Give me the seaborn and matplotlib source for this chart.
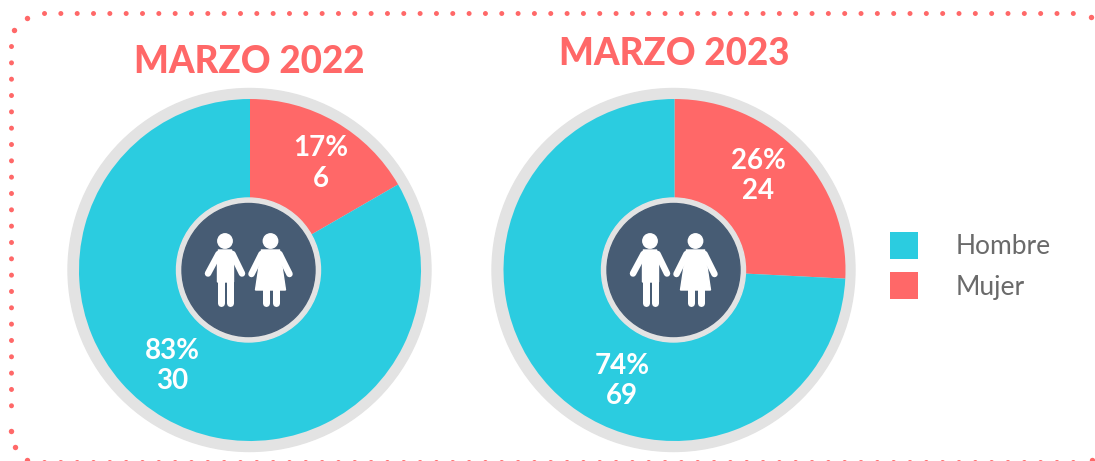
import matplotlib
matplotlib.use("Agg")
import matplotlib.pyplot as plt
from matplotlib.patches import Circle, Polygon, Patch
import seaborn as sns

# Data
periods = ["MARZO 2022", "MARZO 2023"]
categories = ["Mujer", "Hombre"]
values_2022 = [6, 30]
values_2023 = [24, 69]
pct_2022 = ["17%", "83%"]
pct_2023 = ["26%", "74%"]

sns.set_theme(style="white")
plt.rcParams["font.family"] = ["Lato", "DejaVu Sans"]

palette = {"Mujer": "#FF6868", "Hombre": "#2BCCE0"}
GRAY = "#E3E3E3"
DARK = "#475C74"
W, H = 1095, 461
PT = 72 / 100  # points per pixel

fig = plt.figure(figsize=(W / 100, H / 100), dpi=100, facecolor="white")
ax = fig.add_axes([0, 0, 1, 1])


def Y(py):
    return H - py


def limb(P, a, b, w):
    ax.plot(*zip(P(*a), P(*b)), color="white", lw=w * PT, solid_capstyle="round", zorder=6)


def man(cx, cy):
    def P(dx, dy):
        return (cx + dx, Y(cy + dy))
    ax.add_patch(Circle(P(-23.5, -29), 7.2, color="white", zorder=6))
    ax.add_patch(Polygon([P(-30, -20), P(-17, -20), P(-15, -14), P(-15, 12), P(-31, 12), P(-31, -14)],
                         closed=True, color="white", zorder=6))
    limb(P, (-30, -16), (-40.5, 3.5), 6.5)
    limb(P, (-16, -16), (-6.5, 3.5), 6.5)
    limb(P, (-27.7, 8), (-27.7, 33), 7)
    limb(P, (-19, 8), (-19, 33), 7)


def woman(cx, cy):
    def P(dx, dy):
        return (cx + dx, Y(cy + dy))
    ax.add_patch(Circle(P(22, -29), 7.2, color="white", zorder=6))
    ax.add_patch(Polygon([P(13, -20), P(31, -20), P(34, 0), P(37, 20), P(7, 20), P(10, 0)],
                         closed=True, color="white", zorder=6))
    limb(P, (13, -16), (3, 4), 6.5)
    limb(P, (31, -16), (41, 4), 6.5)
    limb(P, (17.5, 15), (17.5, 33), 7)
    limb(P, (27, 15), (27, 33), 7)


charts = [
    dict(vals=values_2022, pct=pct_2022, title=periods[0], c=(250, 270), r=171, ring=181.5, rc=249.5,
         hub=(248.5, 270), title_xy=(249, 62), pos=[(321, 163.5), (172, 366)]),
    dict(vals=values_2023, pct=pct_2023, title=periods[1], c=(674.5, 270), r=171, ring=181.5, rc=673.5,
         hub=(673.5, 270), title_xy=(674, 54), pos=[(758, 176), (622, 381)]),
]

for ch in charts:
    cx, cy = ch["c"]
    ax.add_patch(Circle((ch["rc"], Y(cy)), ch["ring"], color=GRAY, zorder=1))
    wedges, _ = ax.pie(ch["vals"], colors=[palette[k] for k in categories], center=(cx, Y(cy)), radius=ch["r"],
                       startangle=90, counterclock=False, frame=False,
                       wedgeprops=dict(edgecolor="none", linewidth=0, zorder=2))
    hx, hy = ch["hub"]
    ax.add_patch(Circle((hx, Y(hy)), 72, color=GRAY, zorder=3))
    ax.add_patch(Circle((hx, Y(hy)), 66.5, color=DARK, zorder=4))
    man(hx, hy)
    woman(hx, hy)
    ax.text(ch["title_xy"][0], Y(ch["title_xy"][1]), ch["title"], color=palette["Mujer"], fontsize=26.5,
            fontweight=900, ha="center", va="center", zorder=7)
    for (px, py), p, v in zip(ch["pos"], ch["pct"], ch["vals"]):
        ax.text(px, Y(py), f"{p}\n{v}", color="white", fontsize=20, fontweight="bold", ha="center", va="center",
                linespacing=1.2, zorder=7)

# Dotted rounded frame
DOT = 5
coral = palette["Mujer"]
dash = (0, (0.01, 16.28 / DOT))
top_xs, top_ys = (43.5, 1076), (13.5, 13.5)
left_xs, left_ys = (11, 11), (46, 421)
bottom_xs, bottom_ys = (43.5, 1076), (461.5, 461.5)
for xs, ys in [(top_xs, top_ys), (left_xs, left_ys), (bottom_xs, bottom_ys)]:
    ax.plot(xs, [Y(v) for v in ys], color=coral, lw=DOT * PT, linestyle=dash, dash_capstyle="round", zorder=1)
corner_x = [26.5, 14.3, 11, 15, 27, 1091, 1092]
corner_y = [18, 30, 430.5, 447, 459.5, 17, 460]
ax.plot(corner_x, [Y(v) for v in corner_y], linestyle="none", marker="o", markersize=5.4 * PT, color=coral,
        markeredgewidth=0, zorder=1)

# Legend
handles = [Patch(facecolor=palette[k], edgecolor="none", label=k) for k in ["Hombre", "Mujer"]]
fs = 19
fpx = fs / PT
leg = ax.legend(handles=handles, loc="upper left", bbox_to_anchor=(890 / W, 1 - 232 / H), frameon=False,
                fontsize=fs, handlelength=28 / fpx, handleheight=31.5 / fpx, handletextpad=38 / fpx,
                labelspacing=13 / fpx, borderpad=0, borderaxespad=0)
for t in leg.get_texts():
    t.set_color("#6A6A6A")
    t.set_fontweight("normal")

ax.set_xlim(0, W)
ax.set_ylim(0, H)
ax.set_aspect("equal")
ax.axis("off")
fig.savefig("out.png", dpi=100, facecolor="white")
